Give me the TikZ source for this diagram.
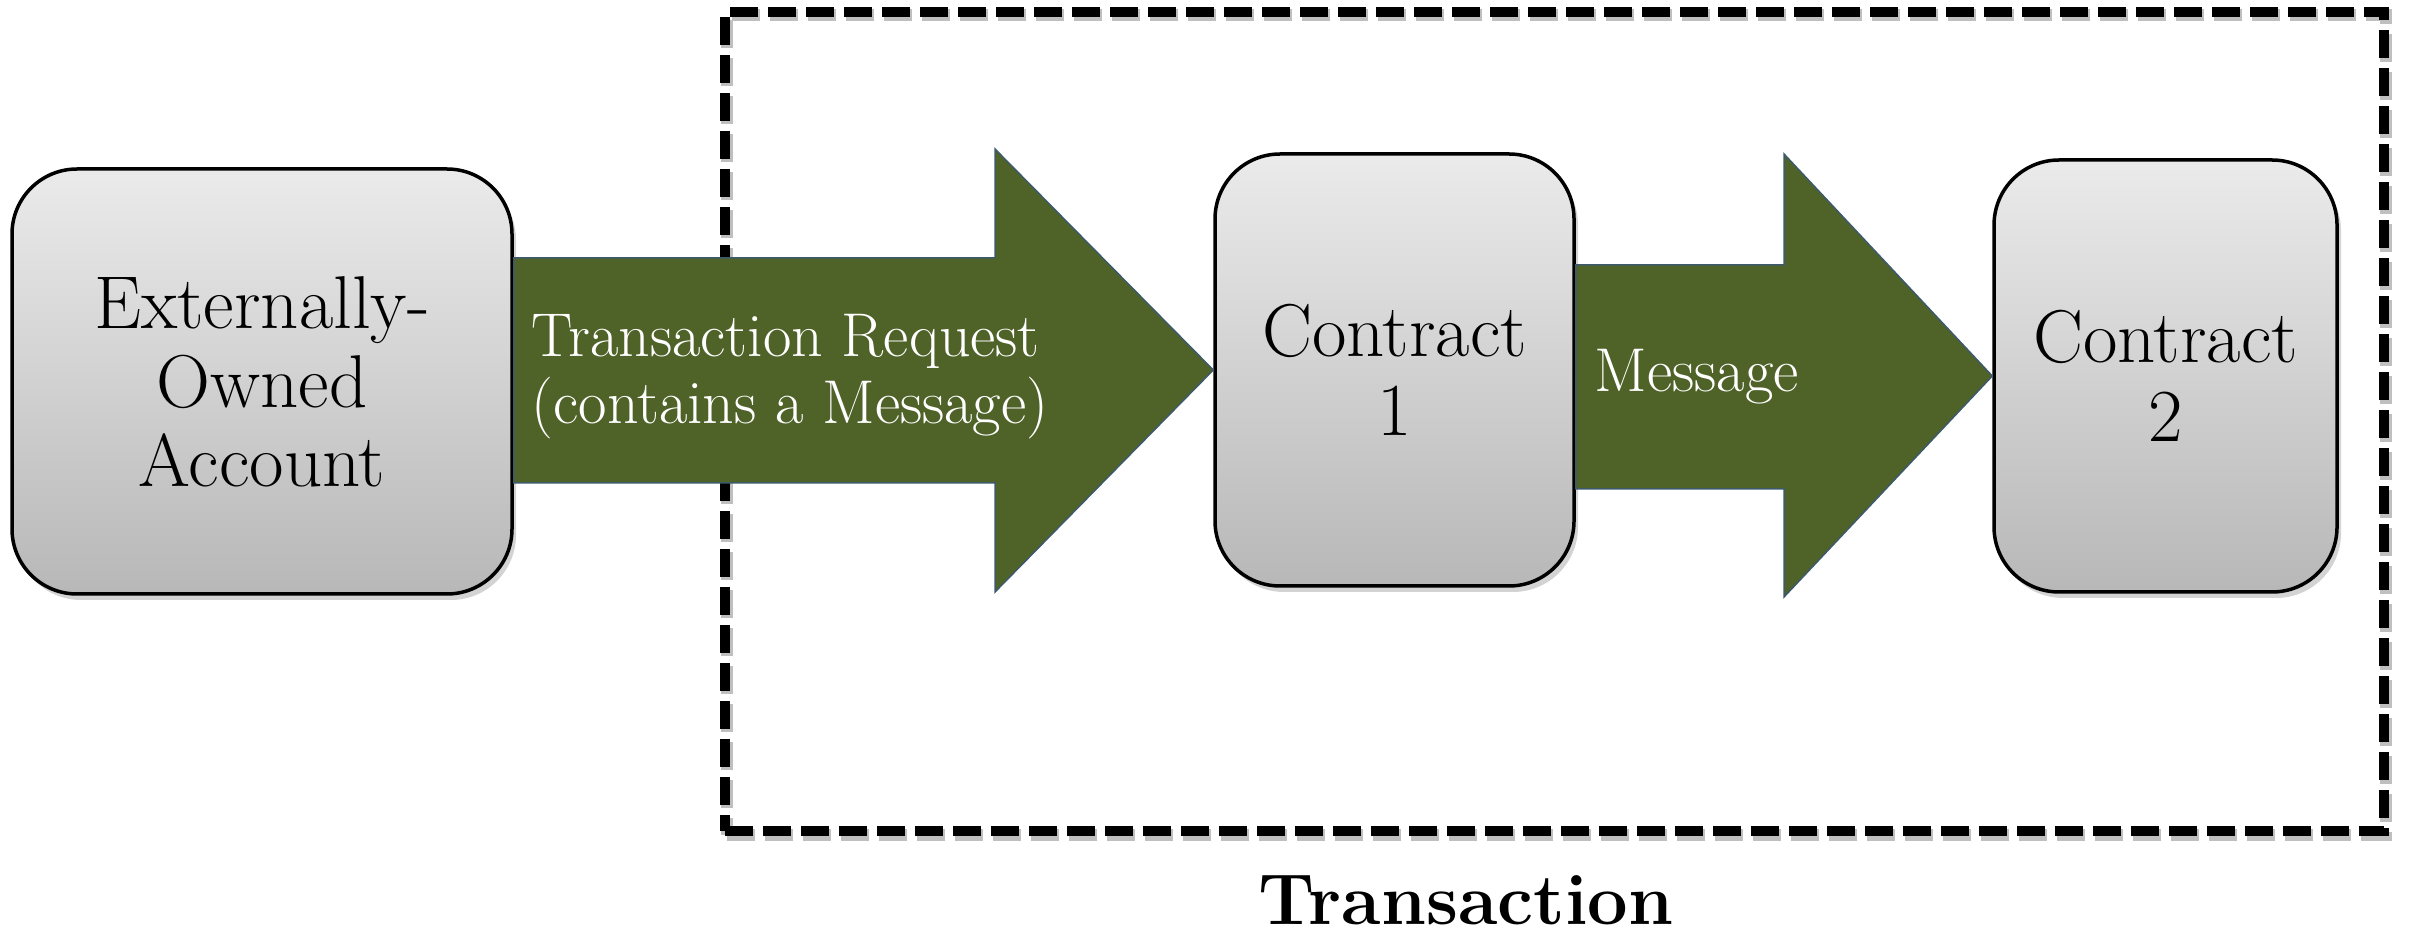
\documentclass[tikz,border=0pt]{standalone}
\usetikzlibrary{shadows}
\definecolor{olive}{HTML}{4F6228}
\definecolor{oliveedge}{HTML}{3D5A6C}
\tikzset{
  acct/.style={draw=black, line width=0.35mm, rounded corners=6.5mm,
    top color=black!8, bottom color=black!28, align=center,
    font=\fontsize{21.3}{22.5}\selectfont,
    drop shadow={opacity=0.35, shadow xshift=0.4mm, shadow yshift=-0.6mm}},
  blockarrow/.style={fill=olive, draw=oliveedge, line width=0.15mm},
  arrowtext/.style={text=white, align=left, anchor=west, inner sep=0pt,
    font=\fontsize{17.6}{19}\selectfont},
  txframe/.style={draw=black, line width=1mm, dash pattern=on 2.8mm off 1mm,
    minimum width=165.9mm, minimum height=81.9mm, inner sep=0pt},
  txshadow/.style={draw=black!25, line width=1.2mm, dash pattern=on 2.8mm off 1mm,
    minimum width=165.9mm, minimum height=81.9mm, inner sep=0pt},
}
\begin{document}
\begin{tikzpicture}[x=0.1mm, y=-0.1mm]
\useasboundingbox (0,0) rectangle (2412,938);
% dashed transaction frame
\node[txshadow] (frameshadow) at (1556.5,425) {};
\node[txframe] (frame) at (1554.5,421.5) {};
% boxes
\node[acct, minimum width=50mm, minimum height=42.5mm] (eoa) at (262,381.5)
  {Externally-\\Owned\\Account};
\node[acct, minimum width=35.9mm, minimum height=43.2mm] (c1) at (1394.5,370)
  {Contract\\1};
\node[acct, minimum width=34.3mm, minimum height=43.2mm] (c2) at (2165.5,376)
  {Contract\\2};
% block arrow 1
\draw[blockarrow] (eoa.east |- 0,258) -- (995,258) -- (995,149) -- (c1.west)
  -- (995,592) -- (995,483) -- (eoa.east |- 0,483) -- cycle;
\node[arrowtext] (req) at (531,377) {Transaction Request\\(contains a Message)};
% block arrow 2
\draw[blockarrow] (c1.east |- 0,265) -- (1784,265) -- (1784,154) -- (c2.west)
  -- (1784,597) -- (1784,489) -- (c1.east |- 0,489) -- cycle;
\node[arrowtext] (msg) at (1594,377) {Message};
% title
\node[anchor=base, inner sep=0pt, font=\bfseries\fontsize{20.5}{22}\selectfont]
  (title) at (1466,924) {Transaction};
\end{tikzpicture}
\end{document}
